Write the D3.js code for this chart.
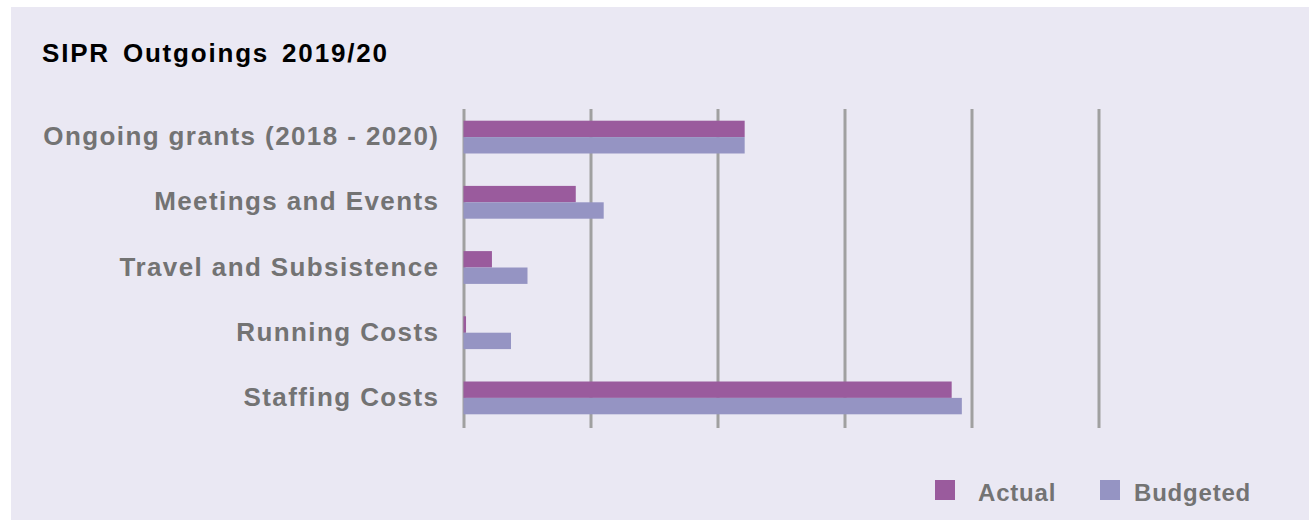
<!DOCTYPE html>
<html><head><meta charset="utf-8">
<script src="https://cdn.jsdelivr.net/npm/d3@7"></script>
<style>html,body{margin:0;padding:0;background:#fff;}svg{display:block;}</style>
</head><body>
<svg id="chart" width="1314" height="520"></svg>
<script>
const categories = ["Ongoing grants (2018 - 2020)", "Meetings and Events", "Travel and Subsistence", "Running Costs", "Staffing Costs"];
const seriesNames = ["Actual", "Budgeted"];
const actual = [110500, 44000, 11000, 800, 192000];
const budgeted = [110500, 55000, 25000, 18500, 196000];
const tickValues = [0, 50000, 100000, 150000, 200000, 250000];
const colors = ["#9a5b9d", "#9594c3"];

const svg = d3.select("#chart");
const font = "'Liberation Sans', Arial, Helvetica, sans-serif";

svg.append("rect").attr("x", 11).attr("y", 7).attr("width", 1298).attr("height", 513).attr("fill", "#eae8f3");

svg.append("text").attr("x", 42).attr("y", 62).text("SIPR Outgoings 2019/20")
  .attr("font-family", font).attr("font-weight", "bold").attr("font-size", 26)
  .attr("letter-spacing", 1.8).attr("word-spacing", 4).attr("fill", "#000");

const x = d3.scaleLinear().domain([0, 250000]).range([464, 1099]);
const y = d3.scaleBand().domain(categories).range([104.5, 430.5]).paddingInner(0).paddingOuter(0);

// gridlines
svg.append("g").selectAll("line").data(tickValues).join("line")
  .attr("x1", d => x(d)).attr("x2", d => x(d)).attr("y1", 109).attr("y2", 428)
  .attr("stroke", "#a0a0a0").attr("stroke-width", 3);

const data = categories.map((c, i) => ({c, vals: [actual[i], budgeted[i]]}));
const groups = svg.append("g").selectAll("g").data(data).join("g")
  .attr("transform", d => `translate(0,${y(d.c)})`);
const bh = 16.4;
groups.selectAll("rect").data(d => d.vals.map((v, j) => ({v, j}))).join("rect")
  .attr("x", x(0) - 0.5)
  .attr("y", d => y.bandwidth() / 2 - bh + d.j * bh)
  .attr("width", d => x(d.v) - x(0) + 0.5)
  .attr("height", bh)
  .attr("fill", d => colors[d.j]);

// category labels
svg.append("g").selectAll("text").data(categories).join("text")
  .attr("x", 439.4).attr("y", d => y(d) + y.bandwidth() / 2 + 8)
  .attr("text-anchor", "end").text(d => d)
  .attr("font-family", font).attr("font-weight", "bold").attr("font-size", 26)
  .attr("letter-spacing", 1.4).attr("fill", "#737373");

// legend
const legX = [935, 1100];
const lg = svg.append("g").selectAll("g").data(seriesNames).join("g")
  .attr("transform", (d, i) => `translate(${legX[i]},480)`);
lg.append("rect").attr("width", 20).attr("height", 20).attr("fill", (d, i) => colors[i]);
lg.append("text").attr("x", (d, i) => i === 0 ? 43 : 34).attr("y", 21).text(d => d)
  .attr("font-family", font).attr("font-weight", "bold").attr("font-size", 24)
  .attr("letter-spacing", 0.8).attr("fill", "#737373");
</script>
</body></html>
